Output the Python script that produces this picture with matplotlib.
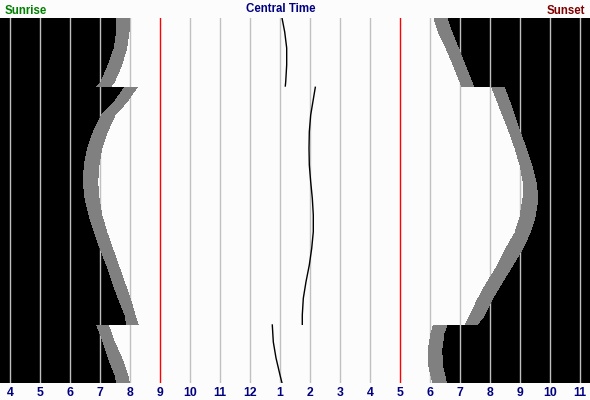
import matplotlib
matplotlib.use("Agg")
import matplotlib.pyplot as plt
from matplotlib import transforms

# hour axis: 4 am .. 11 pm, labels in 12h clock
hours = list(range(4, 24))
hour_labels = ['4', '5', '6', '7', '8', '9', '10', '11', '12',
               '1', '2', '3', '4', '5', '6', '7', '8', '9', '10', '11']
red_hours = [9, 17]

# morning side, day of year -> hour (start of twilight, sunrise)
am_days_std1 = [0, 14, 30, 47, 64, 69]
dawn_std1 = [7.557, 7.557, 7.477, 7.277, 7.033, 6.88]
rise_std1 = [7.977, 7.967, 7.89, 7.723, 7.477, 7.35]

am_days_dst = [69, 84, 97, 114, 130, 147, 164, 180, 197, 214, 230, 247, 264, 280, 297, 307]
dawn_dst = [7.833, 7.477, 7.057, 6.777, 6.59, 6.477, 6.443, 6.5, 6.633, 6.81,
            7.0, 7.223, 7.41, 7.61, 7.833, 7.89]
rise_dst = [8.243, 7.89, 7.5, 7.243, 7.057, 6.967, 6.923, 6.967, 7.057, 7.223,
            7.41, 7.61, 7.81, 8.0, 8.167, 8.277]

am_days_std2 = [307, 324, 340, 357, 365]
dawn_std2 = [6.89, 7.11, 7.277, 7.5, 7.557]
rise_std2 = [7.277, 7.477, 7.723, 7.923, 7.977]

# evening side (sunset, end of twilight)
pm_days_std1 = [0, 14, 30, 47, 64, 69]
set_std1 = [18.133, 18.277, 18.533, 18.777, 19.0, 19.07]
dusk_std1 = [18.557, 18.723, 18.943, 19.167, 19.39, 19.46]

pm_days_dst = [69, 80, 97, 114, 130, 147, 164, 180, 199, 215, 232, 249, 265, 282, 299, 307]
set_dst = [20.057, 20.2, 20.423, 20.643, 20.833, 21.0, 21.11, 21.1, 21.0, 20.833,
           20.5, 20.223, 19.89, 19.577, 19.31, 19.17]
dusk_dst = [20.467, 20.61, 20.81, 21.0, 21.2, 21.39, 21.533, 21.6, 21.5, 21.333,
            21.057, 20.723, 20.39, 20.057, 19.777, 19.56]

pm_days_std2 = [307, 315, 332, 349, 365]
set_std2 = [18.12, 18.033, 17.943, 17.967, 18.09]
dusk_std2 = [18.56, 18.467, 18.39, 18.423, 18.55]

# solar noon
noon_days_std1 = [0, 14, 30, 47, 64, 68]
noon_std1 = [13.067, 13.157, 13.223, 13.223, 13.19, 13.177]
noon_days_dst = [69.3, 97, 113.7, 130.3, 147, 163.7, 180.3, 197, 213.7, 230.3,
                 247, 263.7, 280.3, 297, 306.3]
noon_dst = [14.177, 14.023, 13.977, 13.967, 13.977, 14.023, 14.077, 14.11, 14.11,
            14.057, 13.977, 13.867, 13.777, 13.743, 13.743]
noon_days_std2 = [307, 324, 340, 357, 365]
noon_std2 = [12.743, 12.777, 12.867, 13.0, 13.067]


def band(ax, d_left, x_left, d_right, x_right, color, z):
    xs = list(x_left) + list(x_right)[::-1]
    ys = list(d_left) + list(d_right)[::-1]
    ax.fill(xs, ys, color=color, lw=0, zorder=z, antialiased=False)


fig = plt.figure(figsize=(5.9, 4.0), dpi=100)
fig.patch.set_facecolor('#fcfcfc')
ax = fig.add_axes([0, 17 / 400, 1, 365 / 400])
ax.set_facecolor('black')
ax.set_xlim(4 - 10 / 30, 4 + 580 / 30)
ax.set_ylim(365, 0)
ax.set_xticks([])
ax.set_yticks([])
for s in ax.spines.values():
    s.set_visible(False)

segments = [
    (am_days_std1, dawn_std1, rise_std1, pm_days_std1, set_std1, dusk_std1),
    (am_days_dst, dawn_dst, rise_dst, pm_days_dst, set_dst, dusk_dst),
    (am_days_std2, dawn_std2, rise_std2, pm_days_std2, set_std2, dusk_std2),
]
for amd, dawn, rise, pmd, sset, dusk in segments:
    band(ax, amd, rise, pmd, sset, '#fcfcfc', 1)
    band(ax, amd, dawn, amd, rise, '#808080', 3)
    band(ax, pmd, sset, pmd, dusk, '#808080', 3)

for h in hours:
    c = '#ff0000' if h in red_hours else '#c0c0c0'
    ax.axvline(h, color=c, lw=1.0, zorder=2)

for d, n in [(noon_days_std1, noon_std1), (noon_days_dst, noon_dst),
             (noon_days_std2, noon_std2)]:
    ax.plot(n, d, color='black', lw=1.0, zorder=4)

font = 'Liberation Sans'
tr = transforms.blended_transform_factory(ax.transData, fig.transFigure)
for h, lab in zip(hours, hour_labels):
    fig.text(h, 4.5 / 400, lab, transform=tr, ha='center', va='baseline',
             color='#000080', fontsize=8.8, fontweight='bold', family=font)

fig.text(5 / 590, 386 / 400, 'Sunrise', ha='left', va='baseline',
         color='#008000', fontsize=8.3, fontweight='bold', family=font)
fig.text(281 / 590, 388 / 400, 'Central Time', ha='center', va='baseline',
         color='#000080', fontsize=8.3, fontweight='bold', family=font)
fig.text(585 / 590, 386 / 400, 'Sunset', ha='right', va='baseline',
         color='#800000', fontsize=8.3, fontweight='bold', family=font)

fig.savefig('out.png', dpi=100, facecolor=fig.get_facecolor())
